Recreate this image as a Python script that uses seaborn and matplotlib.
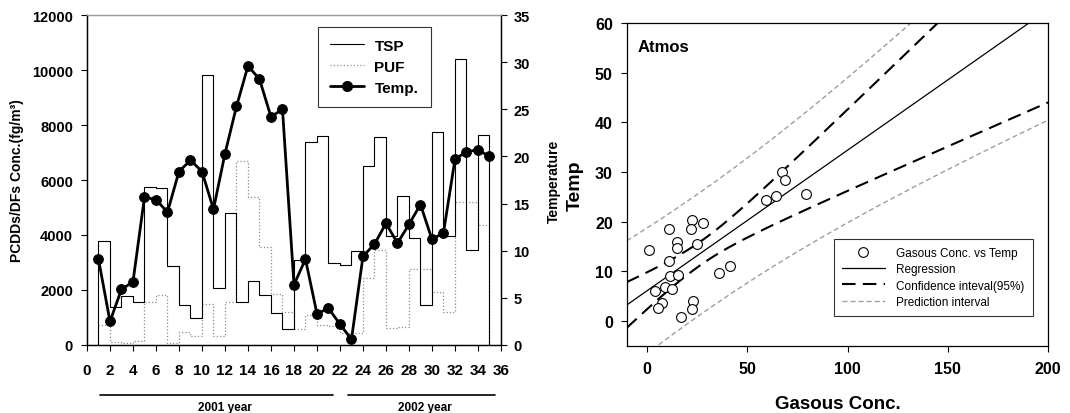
import numpy as np
import pandas as pd
import seaborn as sns
import matplotlib.pyplot as plt
from matplotlib.lines import Line2D

# left panel: sampling number 1..35, bars span sample i -> i+1
sample = list(range(1, 36))
tsp = [3770, 1370, 1790, 1550, 5730, 5700, 2880, 1470, 970, 9820,
       2060, 4800, 1550, 2340, 1820, 1150, 580, 3100, 7370, 7610,
       2980, 2920, 3430, 6520, 7580, 3950, 5430, 3890, 1470, 7730,
       3980, 10400, 3450, 7640]
puf = [740, 100, 80, 160, 1550, 1800, 80, 460, 340, 1490,
       340, 1550, 6700, 5380, 3550, 1850, 1190, 580, 1100, 740,
       700, 420, 420, 2430, 3460, 600, 640, 2760, 2760, 1920,
       1210, 5200, 5200, 4350]
temp = [9.1, 2.5, 5.9, 6.7, 15.7, 15.4, 14.1, 18.4, 19.6, 18.4,
        14.4, 20.3, 25.3, 29.6, 28.2, 24.2, 25.0, 6.4, 9.1, 3.3,
        3.9, 2.2, 0.6, 9.4, 10.7, 12.9, 10.8, 12.8, 14.9, 11.2,
        11.9, 19.7, 20.5, 20.7, 20.0]

# right panel: gaseous conc. vs temperature
gas_conc = [1.3, 11.3, 22.4, 22.1, 27.9, 15.0, 15.0, 25.1, 11.3, 11.6,
            15.8, 9.1, 12.5, 4.3, 7.8, 5.5, 16.8, 22.9, 22.6, 35.9,
            41.7, 59.5, 64.5, 67.5, 68.8, 79.1]
gas_temp = [14.3, 18.6, 20.4, 18.6, 19.8, 15.9, 14.6, 15.5, 12.1, 9.1,
            9.2, 6.8, 6.4, 6.0, 3.5, 2.5, 0.7, 4.1, 2.3, 9.6,
            11.1, 24.3, 25.2, 29.9, 28.3, 25.5]

sns.set_style('ticks')
plt.rcParams['font.family'] = ['Liberation Sans', 'DejaVu Sans']
plt.rcParams['font.weight'] = 'bold'
plt.rcParams['axes.labelweight'] = 'bold'
plt.rcParams['axes.linewidth'] = 0.9
for key in ('text.color', 'axes.labelcolor', 'xtick.color', 'ytick.color', 'axes.edgecolor'):
    plt.rcParams[key] = 'black'
plt.rcParams['xtick.major.size'] = 4
plt.rcParams['ytick.major.size'] = 4

fig = plt.figure(figsize=(10.7, 4.14), dpi=100)
ax1 = fig.add_axes([0.0813, 0.1643, 0.3869, 0.797])
ax2 = ax1.twinx()
ax3 = fig.add_axes([0.5857, 0.1626, 0.394, 0.7795])


def step_outline(values):
    # outline of bars from i to i+1, closed down to zero at both ends
    xs = [sample[0]] + sample + [sample[-1]]
    ys = [0] + list(values) + [values[-1], 0]
    return pd.DataFrame({'x': xs, 'y': ys})


# ---- left panel: step bars + temperature
sns.lineplot(data=step_outline(puf), x='x', y='y', sort=False, estimator=None,
             drawstyle='steps-post', color='0.55', linestyle=':', linewidth=0.9, ax=ax1)
sns.lineplot(data=step_outline(tsp), x='x', y='y', sort=False, estimator=None,
             drawstyle='steps-post', color='black', linewidth=0.8, ax=ax1)
sns.lineplot(x=sample, y=temp, color='black', linewidth=2, marker='o',
             markersize=7, markeredgecolor='black', ax=ax2)

ax1.set_xlim(0, 36)
ax1.set_xticks(range(0, 37, 2))
ax1.set_ylim(0, 12000)
ax1.set_yticks(range(0, 12001, 2000))
ax1.set_xlabel('')
ax1.set_ylabel('PCDDs/DFs Conc.(fg/m³)', fontsize=10, labelpad=6)
ax2.set_ylim(0, 35)
ax2.set_yticks(range(0, 36, 5))
ax2.set_ylabel('Temperature', fontsize=10, labelpad=12)
ax1.tick_params(axis='y', labelsize=10.5, pad=6)
ax1.tick_params(axis='x', labelsize=11, pad=9)
ax2.tick_params(axis='y', labelsize=10.5, pad=5)
for a in (ax1, ax2):
    a.spines['top'].set_color('0.6')

# year bars under the x axis
trans = ax1.get_xaxis_transform()
ax1.plot([1.1, 21.4], [-0.152, -0.152], transform=trans, color='black', lw=1.2, clip_on=False)
ax1.plot([22.7, 35.5], [-0.152, -0.152], transform=trans, color='black', lw=1.2, clip_on=False)
ax1.text(12.0, -0.187, '2001 year', transform=trans, ha='center', va='center', fontsize=8.5)
ax1.text(29.4, -0.187, '2002 year', transform=trans, ha='center', va='center', fontsize=8.5)

h_left = [Line2D([], [], color='black', lw=0.8),
          Line2D([], [], color='0.55', ls=':', lw=0.9),
          Line2D([], [], color='black', lw=2, marker='o', ms=7)]
leg = ax2.legend(h_left, ['TSP', 'PUF', 'Temp.'], loc='upper right',
                 bbox_to_anchor=(0.83, 0.965), fancybox=False, edgecolor='black',
                 fontsize=11, handlelength=2.2, handletextpad=0.7,
                 borderpad=0.8, labelspacing=0.45, borderaxespad=0)
leg.get_frame().set_linewidth(0.8)

# ---- right panel: regression with confidence / prediction intervals
x = np.asarray(gas_conc)
y = np.asarray(gas_temp)
n = len(x)
slope, intercept = np.polyfit(x, y, 1)
s = np.sqrt(np.sum((y - (intercept + slope * x)) ** 2) / (n - 2))
sxx = np.sum((x - x.mean()) ** 2)
t_val = 2.064  # t(0.975, df=24)
xx = np.linspace(-10, 200, 211)
yhat = intercept + slope * xx
ci = t_val * s * np.sqrt(1 / n + (xx - x.mean()) ** 2 / sxx)
pi = t_val * s * np.sqrt(1 + 1 / n + (xx - x.mean()) ** 2 / sxx)

ci_style = dict(color='black', linewidth=1.5, linestyle=(0, (6.5, 3.5)))
pi_style = dict(color='0.62', linewidth=1.0, linestyle=(0, (3.6, 2.2)))
sns.lineplot(x=xx, y=yhat + pi, ax=ax3, **pi_style)
sns.lineplot(x=xx, y=yhat - pi, ax=ax3, **pi_style)
sns.lineplot(x=xx, y=yhat + ci, ax=ax3, **ci_style)
sns.lineplot(x=xx, y=yhat - ci, ax=ax3, **ci_style)
sns.lineplot(x=xx, y=yhat, ax=ax3, color='black', linewidth=0.9)
sns.scatterplot(x=gas_conc, y=gas_temp, marker='o', s=50, facecolor='white',
                edgecolor='black', linewidth=0.8, zorder=3, ax=ax3)

ax3.set_xlim(-10, 200)
ax3.set_ylim(-5, 60)
ax3.set_xticks(range(0, 201, 50))
ax3.set_yticks(range(0, 61, 10))
ax3.tick_params(axis='x', labelsize=11.5, pad=7)
ax3.tick_params(axis='y', labelsize=11.5, pad=6)
ax3.set_xlabel('Gasous Conc.', fontsize=13.5, labelpad=14)
ax3.set_ylabel('Temp', fontsize=14, labelpad=8)
ax3.text(0.026, 0.927, 'Atmos', transform=ax3.transAxes, fontsize=12, va='center')

h_right = [Line2D([], [], ls='none', marker='o', ms=7, mfc='white', mec='black', mew=0.8),
           Line2D([], [], color='black', lw=0.9),
           Line2D([], [], **ci_style),
           Line2D([], [], **pi_style)]
leg2 = ax3.legend(h_right, ['Gasous Conc. vs Temp', 'Regression',
                            'Confidence inteval(95%)', 'Prediction interval'],
                  loc='lower right', bbox_to_anchor=(0.964, 0.092), fancybox=False,
                  edgecolor='black', prop={'size': 8.5, 'weight': 'normal'},
                  handlelength=3.6, handletextpad=1.0, borderpad=0.7,
                  labelspacing=0.35, borderaxespad=0)
leg2.get_frame().set_linewidth(0.8)

fig.savefig('out.png', dpi=100)
